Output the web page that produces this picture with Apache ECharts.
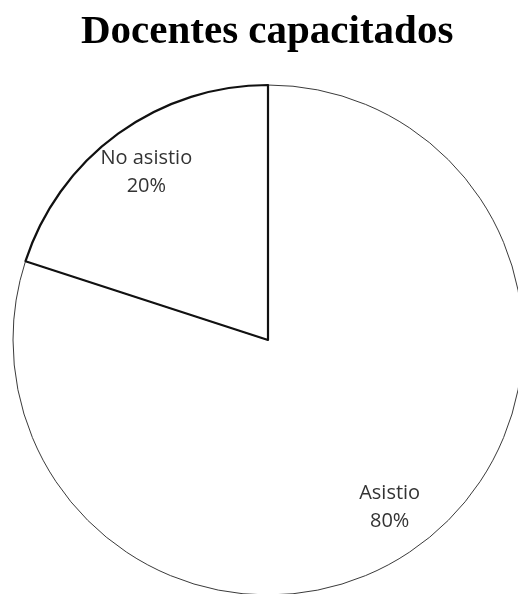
<!DOCTYPE html>
<html>
<head>
<meta charset="utf-8">
<script src="https://cdn.jsdelivr.net/npm/echarts@6/dist/echarts.min.js"></script>
<style>html,body{margin:0;padding:0;background:#fff;}#c{width:518px;height:594px;}</style>
</head>
<body>
<div id="c"></div>
<script>
var titleText = 'Docentes capacitados';
var categories = ['Asistio', 'No asistio'];
var values = [80, 20];

var chart = echarts.init(document.getElementById('c'));
var borderStyles = [
  { color: '#fff', borderColor: '#3a3a3a', borderWidth: 1 },
  { color: '#fff', borderColor: '#111', borderWidth: 2.2 }
];
var data = categories.map(function (c, i) {
  return { name: c, value: values[i], itemStyle: borderStyles[i] };
});
var labelData = categories.map(function (c, i) {
  return { name: c, value: values[i] };
});
chart.setOption({
  backgroundColor: '#fff',
  animation: false,
  title: {
    text: titleText,
    left: 76,
    top: 7,
    textStyle: { fontFamily: 'Liberation Serif', fontWeight: 'bold', fontSize: 41, color: '#000' }
  },
  series: [
    {
      type: 'pie',
      center: [268, 340],
      radius: [0, 255],
      startAngle: 90,
      clockwise: true,
      label: { show: false },
      labelLine: { show: false },
      emphasis: { disabled: true },
      data: data
    },
    {
      type: 'pie',
      center: [268, 340],
      radius: [153, 255],
      startAngle: 90,
      clockwise: true,
      silent: true,
      itemStyle: { color: 'rgba(0,0,0,0)', borderWidth: 0 },
      label: {
        show: true,
        position: 'inside',
        formatter: function (p) { return p.name + '\n' + Math.round(p.percent) + '%'; },
        fontFamily: 'Open Sans',
        fontSize: 20,
        lineHeight: 28,
        color: '#333',
        align: 'center'
      },
      labelLine: { show: false },
      emphasis: { disabled: true },
      data: labelData
    }
  ]
});
</script>
</body>
</html>
